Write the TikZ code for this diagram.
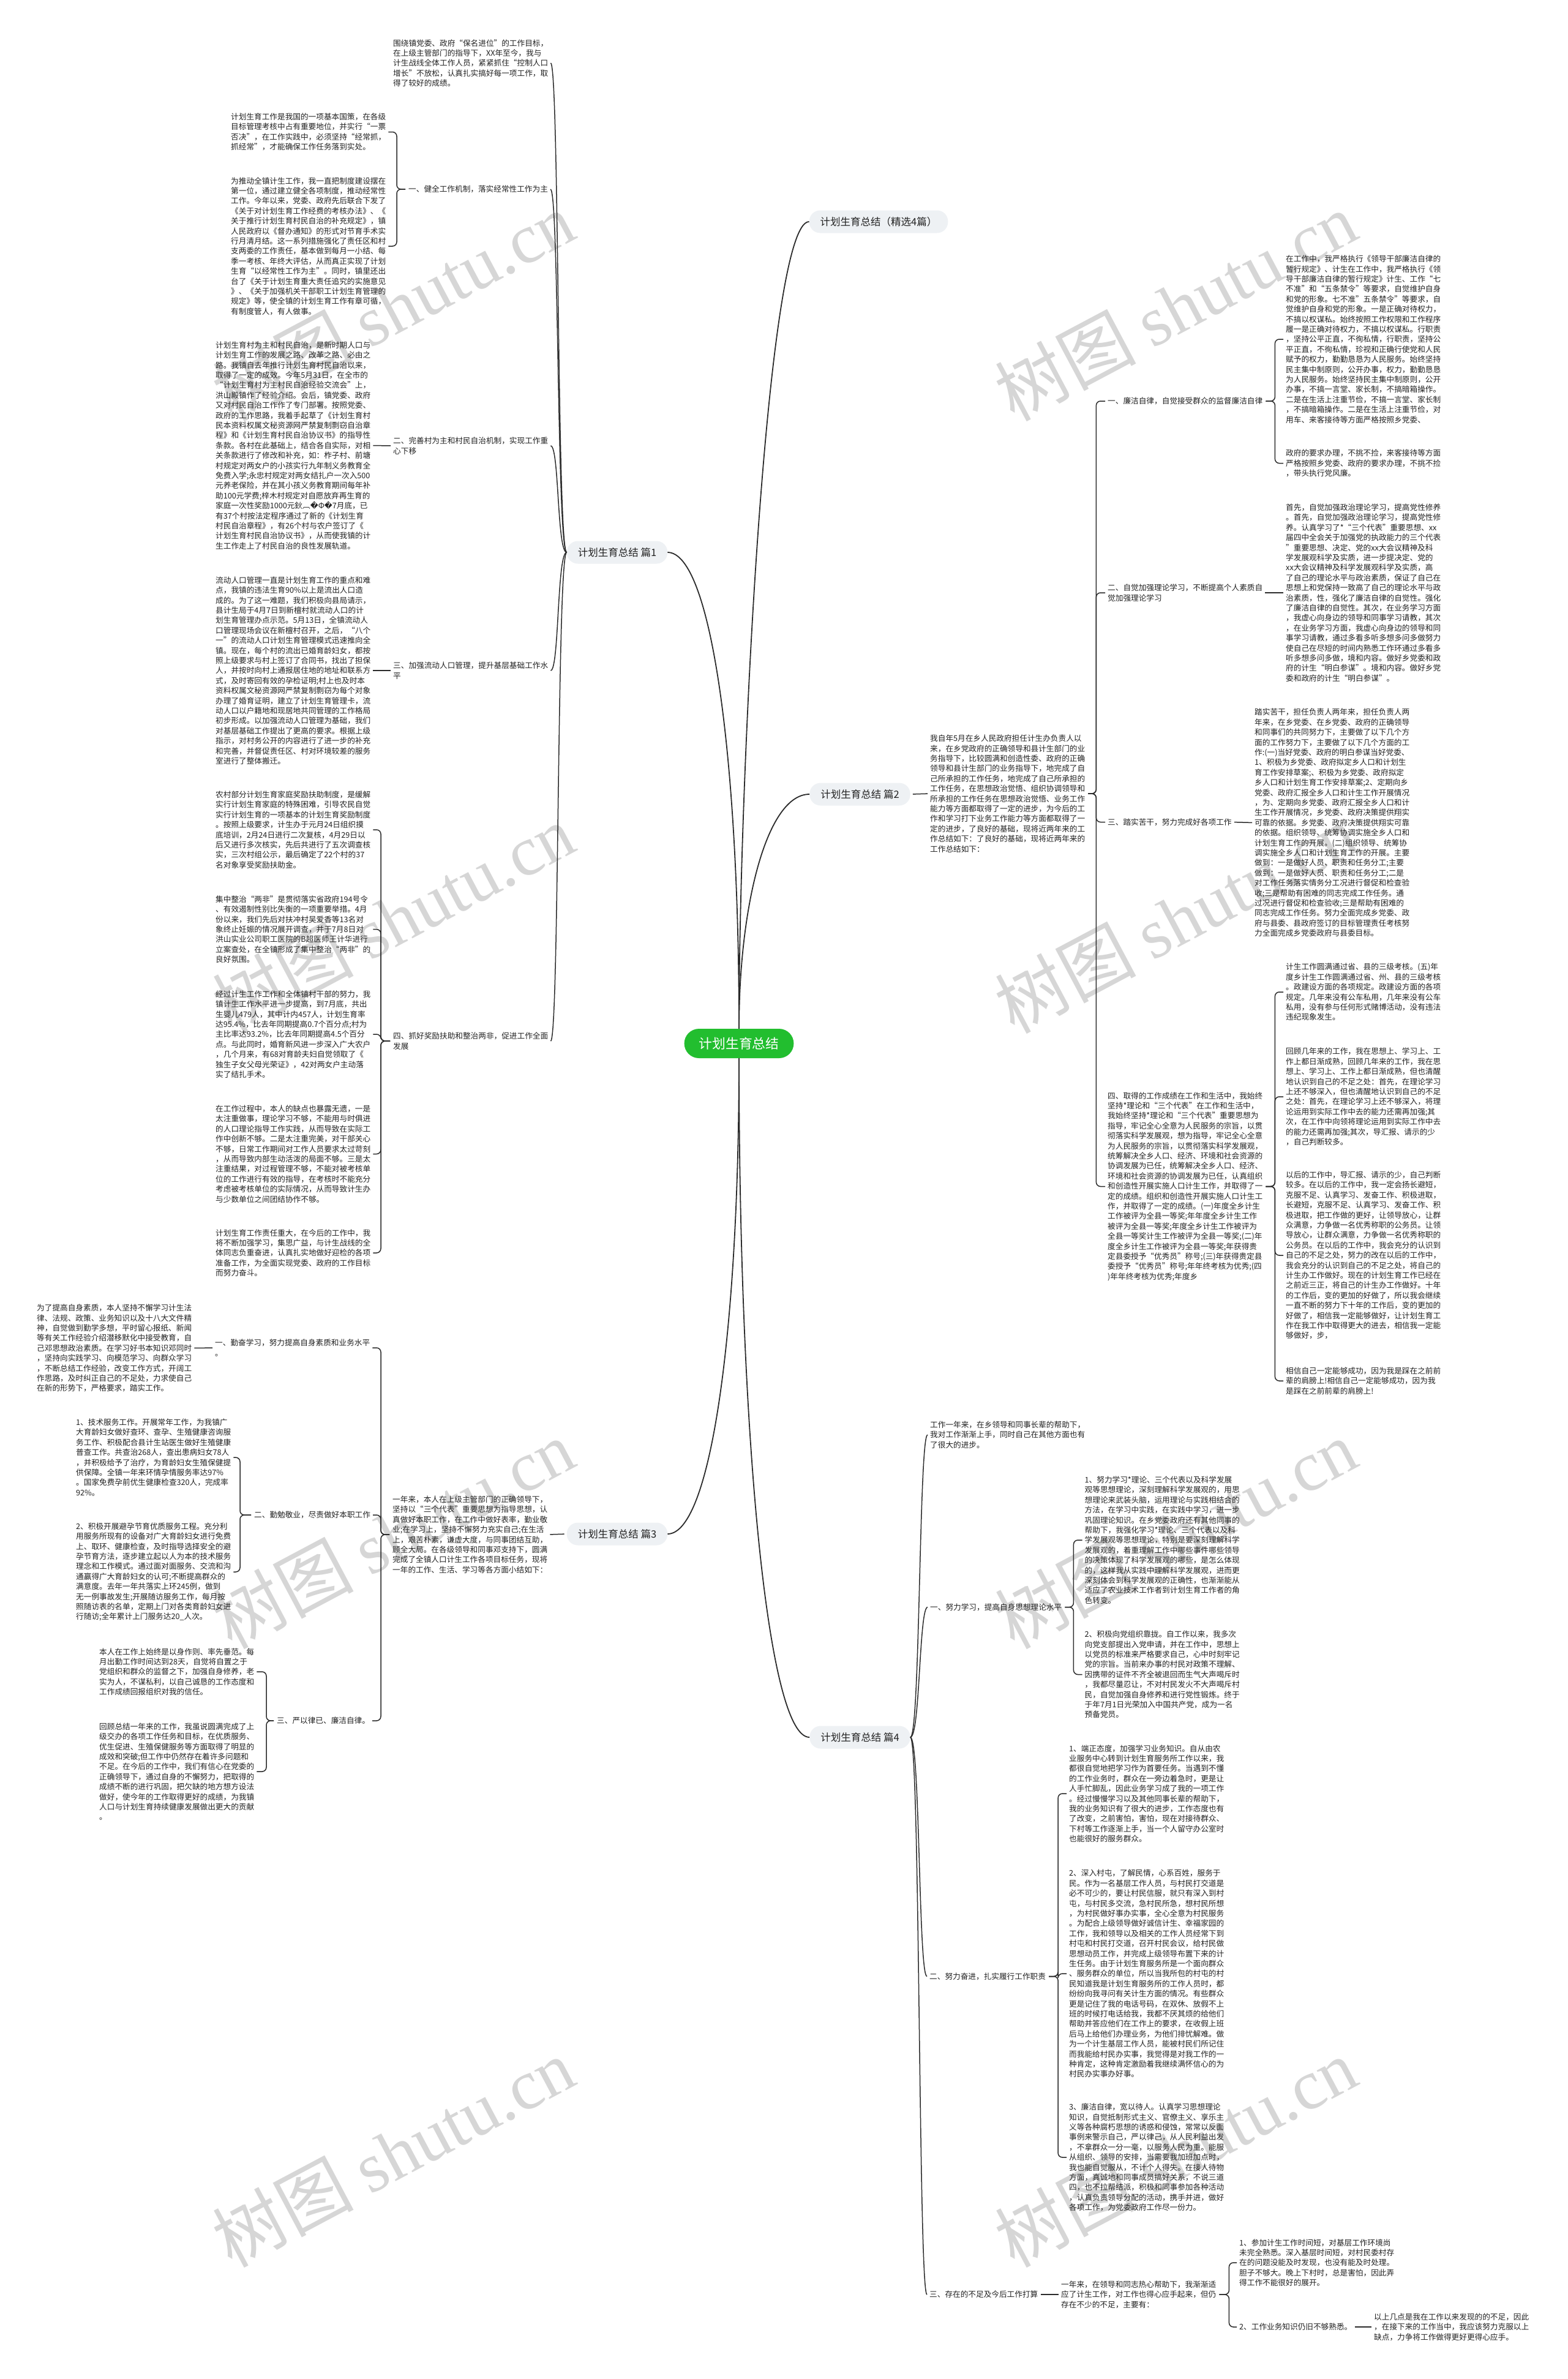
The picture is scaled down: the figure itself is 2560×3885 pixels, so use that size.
\documentclass[tikz,border=0pt]{standalone}
\usepackage{fontspec}
\setmainfont{Noto Sans CJK SC}
\newfontfamily\wmserif{Liberation Serif}
\newfontfamily\repfont{DejaVu Sans}
\definecolor{rootgreen}{HTML}{22BE2F}
\definecolor{pillgray}{HTML}{EEF1F4}
\definecolor{inkline}{HTML}{2B2B2B}
\definecolor{inktext}{HTML}{222222}
\definecolor{wmgray}{HTML}{D6D6D6}
\tikzset{
  txt/.style={font=\fontsize{12.65}{16.4}\selectfont, align=left, inner sep=0pt, anchor=west, text=inktext},
  pill/.style={fill=pillgray, rounded corners=18pt, minimum height=37pt, inner xsep=18pt, font=\fontsize{16.5}{19}\selectfont, text=inktext},
  rootpill/.style={fill=rootgreen, rounded corners=24pt, minimum height=48pt, inner xsep=24pt, font=\fontsize{21.8}{26}\selectfont, text=white},
  rootline/.style={draw=inkline, line width=1.8pt},
  trunk/.style={draw=inkline, line width=1.5pt, shorten >=4pt},
  brace/.style={draw=inkline, line width=1.5pt, rounded corners=7pt, shorten <=5pt, shorten >=4pt},
  link/.style={draw=inkline, line width=1.5pt, shorten <=4pt, shorten >=4pt},
  wmark/.style={text=wmgray, rotate=28, font=\fontsize{115}{120}\selectfont, inner sep=0pt}
}
\begin{document}
\begin{tikzpicture}[x=1pt,y=-1pt]
	\fill[white] (0,0) rectangle (2560,3885);
	\useasboundingbox (0,0) rectangle (2560,3885);
	% watermarks
	\foreach \wx in {642,1920}{
		\foreach \wy in {500,1500,2505,3515}{
			\node[wmark] at (\wx,\wy) {树图 {\wmserif shutu.cn}};
		}
	}
	% centre and first level
	\node[rootpill] (root) at (1207,1704) {计划生育总结};
	\node[pill] (top) at (1435,362) {计划生育总结（精选4篇）};
	\node[pill] (p1) at (1008,902) {计划生育总结 篇1};
	\node[pill] (p2) at (1404.5,1297) {计划生育总结 篇2};
	\node[pill] (p3) at (1008,2505) {计划生育总结 篇3};
	\node[pill] (p4) at (1404.5,2837) {计划生育总结 篇4};
	\draw[rootline] (root.north) .. controls +(0,-400) and +(-70,0) .. (top.west);
	\draw[rootline] (root.north) .. controls +(0,-200) and +(-70,0) .. (p2.west);
	\draw[rootline] (root.north) .. controls +(0,-450) and +(70,0) .. (p1.east);
	\draw[rootline] (root.south) .. controls +(0,450) and +(70,0) .. (p3.east);
	\draw[rootline] (root.south) .. controls +(0,600) and +(-70,0) .. (p4.west);

	% 篇1
	\node[txt] (t0) at (642,103) {围绕镇党委、政府“保名进位”的工作目标，\\在上级主管部门的指导下，XX年至今，我与\\计生战线全体工作人员，紧紧抓住“控制人口\\增长”不放松，认真扎实搞好每一项工作，取\\得了较好的成绩。};
	\node[txt] (a1) at (667,309) {一、健全工作机制，落实经常性工作为主};
	\node[txt] (a2) at (642,728) {二、完善村为主和村民自治机制，实现工作重\\心下移};
	\node[txt] (a3) at (642,1095) {三、加强流动人口管理，提升基层基础工作水\\平};
	\node[txt] (a4) at (642,1700) {四、抓好奖励扶助和整治两非，促进工作全面\\发展};
	\node[txt] (b1) at (377,215.5) {计划生育工作是我国的一项基本国策，在各级\\目标管理考核中占有重要地位，并实行“一票\\否决”，在工作实践中，必须坚持“经常抓，\\抓经常”，才能确保工作任务落到实处。};
	\node[txt] (b2) at (377,402) {为推动全镇计生工作，我一直把制度建设摆在\\第一位，通过建立健全各项制度，推动经常性\\工作。今年以来，党委、政府先后联合下发了\\《关于对计划生育工作经费的考核办法》、《\\关于推行计划生育村民自治的补充规定》，镇\\人民政府以《督办通知》的形式对节育手术实\\行月清月结。这一系列措施强化了责任区和村\\支两委的工作责任，基本做到每月一小结、每\\季一考核、年终大评估，从而真正实现了计划\\生育“以经常性工作为主”。同时，镇里还出\\台了《关于计划生育重大责任追究的实施意见\\》、《关于加强机关干部职工计划生育管理的\\规定》等，使全镇的计划生育工作有章可循，\\有制度管人，有人做事。};
	\node[txt] (b3) at (352,727.5) {计划生育村为主和村民自治，是新时期人口与\\计划生育工作的发展之路、改革之路、必由之\\路。我镇自去年推行计划生育村民自治以来，\\取得了一定的成效。今年5月31日，在全市的\\“计划生育村为主村民自治经验交流会”上，\\洪山殿镇作了经验介绍。会后，镇党委、政府\\又对村民自治工作作了专门部署。按照党委、\\政府的工作思路，我着手起草了《计划生育村\\民本资料权属文秘资源网严禁复制剽窃自治章\\程》和《计划生育村民自治协议书》的指导性\\条款。各村在此基础上，结合各自实际，对相\\关条款进行了修改和补充，如：柞子村、前塘\\村规定对两女户的小孩实行九年制义务教育全\\免费入学;永忠村规定对两女结扎户一次入500\\元养老保险，并在其小孩义务教育期间每年补\\助100元学费;梓木村规定对自愿放弃再生育的\\家庭一次性奖励1000元鈥︹{\repfont �}Φ{\repfont �}7月底，已\\有37个村按法定程序通过了新的《计划生育\\村民自治章程》，有26个村与农户签订了《\\计划生育村民自治协议书》，从而使我镇的计\\生工作走上了村民自治的良性发展轨道。};
	\node[txt] (b4) at (352,1095) {流动人口管理一直是计划生育工作的重点和难\\点，我镇的违法生育90\%以上是流出人口造\\成的。为了这一难题，我们积极向县局请示，\\县计生局于4月7日到新檀村就流动人口的计\\划生育管理办点示范。5月13日，全镇流动人\\口管理现场会议在新檀村召开，之后，“八个\\一”的流动人口计划生育管理模式迅速推向全\\镇。现在，每个村的流出已婚育龄妇女，都按\\照上级要求与村上签订了合同书，找出了担保\\人，并按时向村上通报居住地的地址和联系方\\式，及时寄回有效的孕检证明;村上也及时本\\资料权属文秘资源网严禁复制剽窃为每个对象\\办理了婚育证明，建立了计划生育管理卡，流\\动人口以户籍地和现居地共同管理的工作格局\\初步形成。以加强流动人口管理为基础，我们\\对基层基础工作提出了更高的要求。根据上级\\指示，对村务公开的内容进行了进一步的补充\\和完善，并督促责任区、村对环境较差的服务\\室进行了整体搬迁。};
	\node[txt] (b5) at (352,1355) {农村部分计划生育家庭奖励扶助制度，是缓解\\实行计划生育家庭的特殊困难，引导农民自觉\\实行计划生育的一项基本的计划生育奖励制度\\。按照上级要求，计生办于元月24日组织摸\\底培训，2月24日进行二次复核，4月29日以\\后又进行多次核实，先后共进行了五次调查核\\实，三次村组公示，最后确定了22个村的37\\名对象享受奖励扶助金。};
	\node[txt] (b6) at (352,1517.6) {集中整治“两非”是贯彻落实省政府194号令\\、有效遏制性别比失衡的一项重要举措。4月\\份以来，我们先后对扶冲村吴爱香等13名对\\象终止妊娠的情况展开调查，并于7月8日对\\洪山实业公司职工医院的B超医师王计华进行\\立案查处，在全镇形成了集中整治“两非”的\\良好氛围。};
	\node[txt] (b7) at (352,1689) {经过计生工作工作和全体镇村干部的努力，我\\镇计生工作水平进一步提高，到7月底，共出\\生婴儿479人，其中计内457人，计划生育率\\达95.4\%，比去年同期提高0.7个百分点;村为\\主比率达93.2\%，比去年同期提高4.5个百分\\点。与此同时，婚育新风进一步深入广大农户\\，几个月来，有68对育龄夫妇自觉领取了《\\独生子女父母光荣证》，42对两女户主动落\\实了结扎手术。};
	\node[txt] (b8) at (352,1884.5) {在工作过程中，本人的缺点也暴露无遗，一是\\太注重做事，理论学习不够，不能用与时俱进\\的人口理论指导工作实践，从而导致在实际工\\作中创新不够。二是太注重完美，对干部关心\\不够，日常工作期间对工作人员要求太过苛刻\\，从而导致内部生动活泼的局面不够。三是太\\注重结果，对过程管理不够，不能对被考核单\\位的工作进行有效的指导，在考核时不能充分\\考虑被考核单位的实际情况，从而导致计生办\\与少数单位之间团结协作不够。};
	\node[txt] (b9) at (352,2046) {计划生育工作责任重大，在今后的工作中，我\\将不断加强学习，集思广益，与计生战线的全\\体同志负重奋进，认真扎实地做好迎检的各项\\准备工作，为全面实现党委、政府的工作目标\\而努力奋斗。};
	\foreach \c in {t0,a1,a2,a3,a4}
		\draw[trunk] (p1.west) .. controls +(-16,0) and +(18,0) .. (\c.east);
	\draw[brace] (a1.west) -- ++(-19,0) |- (b1.east);
	\draw[brace] (a1.west) -- ++(-19,0) |- (b2.east);
	\draw[link] (a2.west) -- (b3.east);
	\draw[link] (a3.west) -- (b4.east);
	\foreach \c in {b5,b6,b7,b8,b9}
		\draw[brace] (a4.west) -- ++(-20,0) |- (\c.east);

	% 篇3
	\node[txt] (i3) at (641,2506) {一年来，本人在上级主管部门的正确领导下，\\坚持以“三个代表”重要思想为指导思想，认\\真做好本职工作，在工作中做好表率，勤业敬\\业;在学习上，坚持不懈努力充实自己;在生活\\上，艰苦朴素，谦虚大度，与同事团结互助，\\顾全大局。在各级领导和同事邓支持下，圆满\\完成了全镇人口计生工作各项目标任务，现将\\一年的工作、生活、学习等各方面小结如下：};
	\node[txt] (c1) at (351,2201) {一、勤奋学习，努力提高自身素质和业务水平\\。};
	\node[txt] (c2) at (415,2474) {二、勤勉敬业，尽责做好本职工作};
	\node[txt] (c3) at (452,2810) {三、严以律已、廉洁自律。};
	\node[txt] (d1) at (60,2201.5) {为了提高自身素质，本人坚持不懈学习计生法\\律、法规、政策、业务知识以及十八大文件精\\神，自觉做到勤学多想，平时留心报纸、新闻\\等有关工作经验介绍潜移默化中接受教育，自\\己邓思想政治素质。在学习好书本知识邓同时\\，坚持向实践学习、向模范学习、向群众学习\\，不断总结工作经验，改变工作方式，开阔工\\作思路，及时纠正自己的不足处，力求使自己\\在新的形势下，严格要求，踏实工作。};
	\node[txt] (d2) at (124,2380) {1、技术服务工作。开展常年工作，为我镇广\\大育龄妇女做好查环、查孕、生殖健康咨询服\\务工作、积极配合县计生站医生做好生殖健康\\普查工作。共查治268人，查出患病妇女78人\\，并积极给予了治疗，为育龄妇女生殖保健提\\供保障。全镇一年来环情孕情服务率达97\%\\。国家免费孕前优生健康检查320人，完成率\\92\%。};
	\node[txt] (d3) at (124,2567) {2、积极开展避孕节育优质服务工程。充分利\\用服务所现有的设备对广大育龄妇女进行免费\\上、取环、健康检查，及时指导选择安全的避\\孕节育方法，逐步建立起以人为本的技术服务\\理念和工作模式。通过面对面服务、交流和沟\\通赢得广大育龄妇女的认可;不断提高群众的\\满意度。去年一年共落实上环245例，做到\\无一例事故发生;开展随访服务工作，每月按\\照随访表的名单，定期上门对各类育龄妇女进\\行随访;全年累计上门服务达20\_人次。};
	\node[txt] (d4) at (162,2730) {本人在工作上始终是以身作则、率先垂范。每\\月出勤工作时间达到28天，自觉将自置之于\\党组织和群众的监督之下，加强自身修养，老\\实为人，不谋私利，以自己诚恳的工作态度和\\工作成绩回报组织对我的信任。};
	\node[txt] (d5) at (162,2893) {回顾总结一年来的工作，我虽说圆满完成了上\\级交办的各项工作任务和目标，在优质服务、\\优生促进、生殖保健服务等方面取得了明显的\\成效和突破;但工作中仍然存在着许多问题和\\不足。在今后的工作中，我们有信心在党委的\\正确领导下，通过自身的不懈努力，把取得的\\成绩不断的进行巩固，把欠缺的地方想方设法\\做好，使今年的工作取得更好的成绩，为我镇\\人口与计划生育持续健康发展做出更大的贡献\\。};
	\draw[link] (p3.west) -- (i3.east);
	\foreach \c in {c1,c2,c3}
		\draw[brace] (i3.west) -- ++(-19,0) |- (\c.east);
	\draw[link] (c1.west) -- (d1.east);
	\draw[brace] (c2.west) -- ++(-23,0) |- (d2.east);
	\draw[brace] (c2.west) -- ++(-23,0) |- (d3.east);
	\draw[brace] (c3.west) -- ++(-17,0) |- (d4.east);
	\draw[brace] (c3.west) -- ++(-17,0) |- (d5.east);

	% 篇2
	\node[txt] (i2) at (1519,1296) {我自年5月在乡人民政府担任计生办负责人以\\来，在乡党政府的正确领导和县计生部门的业\\务指导下，比较圆满和创造性委、政府的正确\\领导和县计生部门的业务指导下，地完成了自\\己所承担的工作任务，地完成了自己所承担的\\工作任务，在思想政治觉悟、组织协调领导和\\所承担的工作任务在思想政治觉悟、业务工作\\能力等方面都取得了一定的进步，为今后的工\\作和学习打下业务工作能力等方面都取得了一\\定的进步，了良好的基础，现将近两年来的工\\作总结如下：了良好的基础，现将近两年来的\\工作总结如下：};
	\node[txt] (e1) at (1809,655) {一、廉洁自律，自觉接受群众的监督廉洁自律};
	\node[txt] (e2) at (1809,968) {二、自觉加强理论学习，不断提高个人素质自\\觉加强理论学习};
	\node[txt] (e3) at (1809,1342.5) {三、踏实苦干，努力完成好各项工作};
	\node[txt] (e4) at (1809,1937.5) {四、取得的工作成绩在工作和生活中，我始终\\坚持*理论和“三个代表”在工作和生活中，\\我始终坚持*理论和“三个代表”重要思想为\\指导，牢记全心全意为人民服务的宗旨，以贯\\彻落实科学发展观，想为指导，牢记全心全意\\为人民服务的宗旨，以贯彻落实科学发展观，\\统筹解决全乡人口、经济、环境和社会资源的\\协调发展为已任，统筹解决全乡人口、经济、\\环境和社会资源的协调发展为已任，认真组织\\和创造性开展实施人口计生工作，并取得了一\\定的成绩。组织和创造性开展实施人口计生工\\作，并取得了一定的成绩。(一)年度全乡计生\\工作被评为全县一等奖;年年度全乡计生工作\\被评为全县一等奖;年度全乡计生工作被评为\\全县一等奖计生工作被评为全县一等奖;(二)年\\度全乡计生工作被评为全县一等奖;年获得贵\\定县委授予“优秀员”称号;(三)年获得贵定县\\委授予“优秀员”称号;年年终考核为优秀;(四\\)年年终考核为优秀;年度乡};
	\node[txt] (f1) at (2100,554) {在工作中，我严格执行《领导干部廉洁自律的\\暂行规定》、计生在工作中，我严格执行《领\\导干部廉洁自律的暂行规定》计生、工作“七\\不准”和“五条禁令”等要求，自觉维护自身\\和党的形象。七不准”五条禁令”等要求，自\\觉维护自身和党的形象。一是正确对待权力，\\不搞以权谋私。始终按照工作权限和工作程序\\履一是正确对待权力，不搞以权谋私。行职责\\，坚持公平正直，不徇私情，行职责，坚持公\\平正直，不徇私情，珍视和正确行使党和人民\\赋予的权力，勤勤恳恳为人民服务。始终坚持\\民主集中制原则，公开办事，权力，勤勤恳恳\\为人民服务。始终坚持民主集中制原则，公开\\办事，不搞一言堂、家长制，不搞暗箱操作。\\二是在生活上注重节俭，不搞一言堂、家长制\\，不搞暗箱操作。二是在生活上注重节俭，对\\用车、来客接待等方面严格按照乡党委、};
	\node[txt] (f2) at (2100,756.5) {政府的要求办理，不挑不捡，来客接待等方面\\严格按照乡党委、政府的要求办理，不挑不捡\\，带头执行党风廉。};
	\node[txt] (f3) at (2100,968) {首先，自觉加强政治理论学习，提高党性修养\\。首先，自觉加强政治理论学习，提高党性修\\养。认真学习了*“三个代表”重要思想、xx\\届四中全会关于加强党的执政能力的三个代表\\”重要思想、决定、党的xx大会议精神及科\\学发展观科学及实质，进一步提决定、党的\\xx大会议精神及科学发展观科学及实质，高\\了自己的理论水平与政治素质，保证了自己在\\思想上和党保持一致高了自己的理论水平与政\\治素质，性，强化了廉洁自律的自觉性。强化\\了廉洁自律的自觉性。其次，在业务学习方面\\，我虚心向身边的领导和同事学习请教，其次\\，在业务学习方面，我虚心向身边的领导和同\\事学习请教，通过多看多听多想多问多做努力\\使自己在尽短的时间内熟悉工作环通过多看多\\听多想多问多做，境和内容。做好乡党委和政\\府的计生“明白参谋”。境和内容。做好乡党\\委和政府的计生“明白参谋”。};
	\node[txt] (f4) at (2049,1343.5) {踏实苦干，担任负责人两年来，担任负责人两\\年来，在乡党委、在乡党委、政府的正确领导\\和同事们的共同努力下，主要做了以下几个方\\面的工作努力下，主要做了以下几个方面的工\\作:(一)当好党委、政府的明白参谋当好党委、\\1、积极为乡党委、政府拟定乡人口和计划生\\育工作安排草案;、积极为乡党委、政府拟定\\乡人口和计划生育工作安排草案;2、定期向乡\\党委、政府汇报全乡人口和计生工作开展情况\\，为、定期向乡党委、政府汇报全乡人口和计\\生工作开展情况，乡党委、政府决策提供翔实\\可靠的依据。乡党委、政府决策提供翔实可靠\\的依据。组织领导、统筹协调实施全乡人口和\\计划生育工作的开展。(二)组织领导、统筹协\\调实施全乡人口和计划生育工作的开展。主要\\做到：一是做好人员、职责和任务分工;主要\\做到：一是做好人员、职责和任务分工;二是\\对工作任务落实情务分工况进行督促和检查验\\收;三是帮助有困难的同志完成工作任务。通\\过况进行督促和检查验收;三是帮助有困难的\\同志完成工作任务。努力全面完成乡党委、政\\府与县委、县政府签订的目标管理责任考核努\\力全面完成乡党委政府与县委目标。};
	\node[txt] (f5) at (2100,1620) {计生工作圆满通过省、县的三级考核。(五)年\\度乡计生工作圆满通过省、州、县的三级考核\\。政建设方面的各项规定。政建设方面的各项\\规定。几年来没有公车私用，几年来没有公车\\私用，没有参与任何形式赌博活动，没有违法\\违纪现象发生。};
	\node[txt] (f6) at (2100,1791) {回顾几年来的工作，我在思想上、学习上、工\\作上都日渐成熟，回顾几年来的工作，我在思\\想上、学习上、工作上都日渐成熟，但也清醒\\地认识到自己的不足之处：首先，在理论学习\\上还不够深入，但也清醒地认识到自己的不足\\之处：首先，在理论学习上还不够深入，将理\\论运用到实际工作中去的能力还需再加强;其\\次，在工作中向领将理论运用到实际工作中去\\的能力还需再加强;其次，导汇报、请示的少\\，自己判断较多。};
	\node[txt] (f7) at (2100,2050) {以后的工作中，导汇报、请示的少，自己判断\\较多。在以后的工作中，我一定会扬长避短，\\克服不足、认真学习、发奋工作、积极进取，\\长避短，克服不足、认真学习、发奋工作、积\\极进取，把工作做的更好，让领导放心，让群\\众满意，力争做一名优秀称职的公务员。让领\\导放心，让群众满意，力争做一名优秀称职的\\公务员。在以后的工作中，我会充分的认识到\\自己的不足之处，努力的改在以后的工作中，\\我会充分的认识到自己的不足之处，将自己的\\计生办工作做好。现在的计划生育工作已经在\\之前近三正，将自己的计生办工作做好。十年\\的工作后，变的更加的好做了，所以我会继续\\一直不断的努力下十年的工作后，变的更加的\\好做了，相信我一定能够做好，让计划生育工\\作在我工作中取得更大的进去，相信我一定能\\够做好，步，};
	\node[txt] (f8) at (2100,2255) {相信自己一定能够成功，因为我是踩在之前前\\辈的肩膀上!相信自己一定能够成功，因为我\\是踩在之前前辈的肩膀上!};
	\draw[link] (p2.east) -- (i2.west);
	\foreach \c in {e1,e2,e3,e4}
		\draw[brace] (i2.east) -- ++(18,0) |- (\c.west);
	\draw[brace] (e1.east) -- ++(20,0) |- (f1.west);
	\draw[brace] (e1.east) -- ++(20,0) |- (f2.west);
	\draw[link] (e2.east) -- (f3.west);
	\draw[link] (e3.east) -- (f4.west);
	\foreach \c in {f5,f6,f7,f8}
		\draw[brace] (e4.east) -- ++(20,0) |- (\c.west);

	% 篇4
	\node[txt] (g0) at (1519,2343) {工作一年来，在乡领导和同事长辈的帮助下，\\我对工作渐渐上手，同时自己在其他方面也有\\了很大的进步。};
	\node[txt] (g1) at (1519,2624.5) {一、努力学习，提高自身思想理论水平};
	\node[txt] (g2) at (1518,3227.5) {二、努力奋进，扎实履行工作职责};
	\node[txt] (g3) at (1518,3747) {三、存在的不足及今后工作打算};
	\node[txt] (h1) at (1771.5,2515) {1、努力学习*理论、三个代表以及科学发展\\观等思想理论，深刻理解科学发展观的，用思\\想理论来武装头脑，运用理论与实践相结合的\\方法，在学习中实践，在实践中学习，进一步\\巩固理论知识。在乡党委政府还有其他同事的\\帮助下，我强化学习*理论、三个代表以及科\\学发展观等思想理论，特别是要深刻理解科学\\发展观的，着重理解工作中哪些事件哪些领导\\的决策体现了科学发展观的哪些，是怎么体现\\的，这样我从实践中理解科学发展观，进而更\\深刻体会到科学发展观的正确性，也渐渐能从\\适应了农业技术工作者到计划生育工作者的角\\色转变。};
	\node[txt] (h2) at (1771.5,2734.5) {2、积极向党组织靠拢。自工作以来，我多次\\向党支部提出入党申请，并在工作中，思想上\\以党员的标准来严格要求自己，心中时刻牢记\\党的宗旨。当前来办事的村民对政策不理解、\\因携带的证件不齐全被退回而生气大声喝斥时\\，我都尽量忍让，不对村民发火不大声喝斥村\\民，自觉加强自身修养和进行党性锻炼。终于\\于年7月1日光荣加入中国共产党，成为一名\\预备党员。};
	\node[txt] (h3) at (1746,2929) {1、端正态度，加强学习业务知识。自从由农\\业服务中心转到计划生育服务所工作以来，我\\都很自觉地把学习作为首要任务。当遇到不懂\\的工作业务时，群众在一旁边着急时，更是让\\人手忙脚乱，因此业务学习成了我的一项工作\\。经过慢慢学习以及其他同事长辈的帮助下，\\我的业务知识有了很大的进步，工作态度也有\\了改变，之前害怕，害怕，现在对接待群众、\\下村等工作逐渐上手，当一个人留守办公室时\\也能很好的服务群众。};
	\node[txt] (h4) at (1746,3223) {2、深入村屯，了解民情，心系百姓，服务于\\民。作为一名基层工作人员，与村民打交道是\\必不可少的，要让村民信服，就只有深入到村\\屯，与村民多交流，急村民所急，想村民所想\\，为村民做好事办实事，全心全意为村民服务\\。为配合上级领导做好诚信计生、幸福家园的\\工作，我和领导以及相关的工作人员经常下到\\村屯和村民打交道，召开村民会议，给村民做\\思想动员工作，并完成上级领导布置下来的计\\生任务。由于计划生育服务所是一个面向群众\\、服务群众的单位，所以当我所包的村屯的村\\民知道我是计划生育服务所的工作人员时，都\\纷纷向我寻问有关计生方面的情况。有些群众\\更是记住了我的电话号码，在双休、放假不上\\班的时候打电话给我，我都不厌其烦的给他们\\帮助并答应他们在工作上的要求，在收假上班\\后马上给他们办理业务，为他们排忧解难。做\\为一个计生基层工作人员，能被村民们所记住\\而我能给村民办实事，我觉得是对我工作的一\\种肯定，这种肯定激励着我继续满怀信心的为\\村民办实事办好事。};
	\node[txt] (h5) at (1746,3523) {3、廉洁自律，宽以待人。认真学习思想理论\\知识，自觉抵制形式主义、官僚主义、享乐主\\义等各种腐朽思想的诱惑和侵蚀，常常以反面\\事例来警示自己，严以律己，从人民利益出发\\，不拿群众一分一毫，以服务人民为重。能服\\从组织、领导的安排，当需要我加班加点时，\\我也能自觉服从，不计个人得失。在接人待物\\方面，真诚地和同事成员搞好关系，不说三道\\四，也不拉帮结派，积极和同事参加各种活动\\，认真负责领导分配的活动，携手并进，做好\\各项工作，为党委政府工作尽一份力。};
	\node[txt] (h6) at (1733,3747) {一年来，在领导和同志热心帮助下，我渐渐适\\应了计生工作，对工作也得心应手起来，但仍\\存在不少的不足，主要有：};
	\node[txt] (k1) at (2024,3695) {1、参加计生工作时间短，对基层工作环境尚\\未完全熟悉。深入基层时间短，对村民委村存\\在的问题没能及时发现，也没有能及时处理。\\胆子不够大。晚上下村时，总是害怕，因此弄\\得工作不能很好的展开。};
	\node[txt] (k2) at (2024,3800) {2、工作业务知识仍旧不够熟悉。};
	\node[txt] (k3) at (2244,3800) {以上几点是我在工作以来发现的的不足，因此\\，在接下来的工作当中，我应该努力克服以上\\缺点，力争将工作做得更好更得心应手。};
	\foreach \c in {g0,g1,g2,g3}
		\draw[trunk] (p4.east) .. controls +(16,0) and +(-18,0) .. (\c.west);
	\draw[brace] (g1.east) -- ++(19,0) |- (h1.west);
	\draw[brace] (g1.east) -- ++(19,0) |- (h2.west);
	\foreach \c in {h3,h4,h5}
		\draw[brace] (g2.east) -- ++(20,0) |- (\c.west);
	\draw[link] (g3.east) -- (h6.west);
	\draw[brace] (h6.east) -- ++(21,0) |- (k1.west);
	\draw[brace] (h6.east) -- ++(21,0) |- (k2.west);
	\draw[link] (k2.east) -- (k3.west);
\end{tikzpicture}
\end{document}
